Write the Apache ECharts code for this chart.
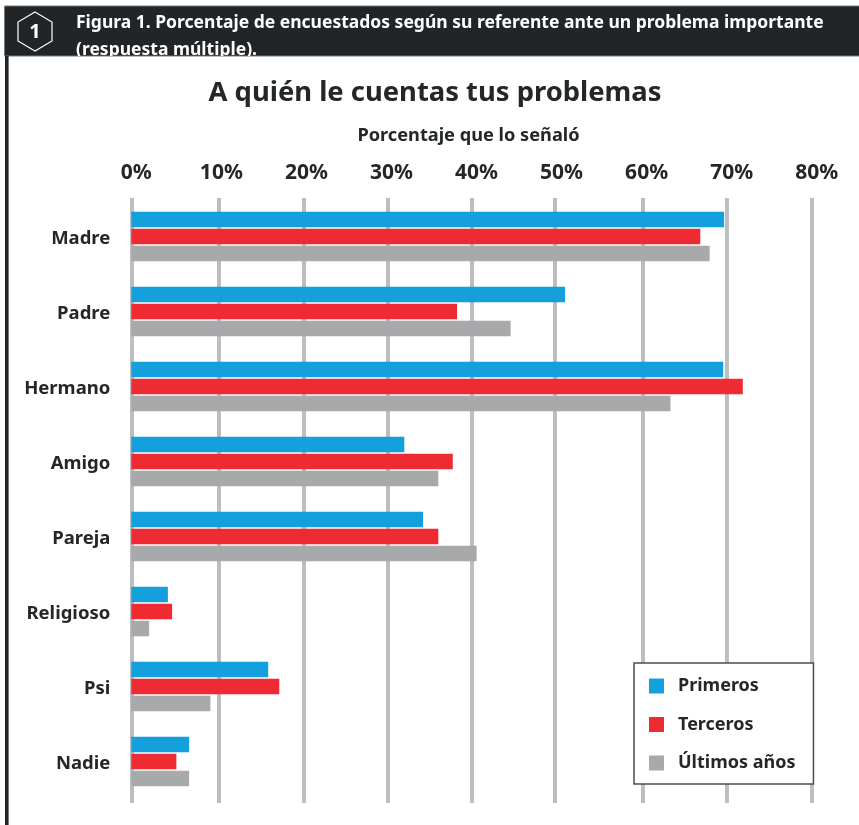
<!DOCTYPE html>
<html><head><meta charset="utf-8">
<style>html,body{margin:0;padding:0;background:#fff}#c{width:859px;height:825px}</style>
<script src="https://cdn.jsdelivr.net/npm/echarts@6/dist/echarts.min.js"></script>
</head><body><div id="c"></div>
<script>
const categories = ["Madre","Padre","Hermano","Amigo","Pareja","Religioso","Psi","Nadie"];
const primeros = [69.7,51.0,69.6,32.1,34.3,4.3,16.1,6.8];
const terceros = [66.9,38.3,71.9,37.8,36.1,4.8,17.4,5.3];
const ultimos  = [68.0,44.6,63.4,36.1,40.6,2.1,9.3,6.8];
const seriesNames = ["Primeros","Terceros","Últimos años"];
const xTickLabels = [0,10,20,30,40,50,60,70,80];
const gridMarks = [0,10.34,20.33,30.15,39.98,49.79,60.13,69.99,80];
const headerLine1 = "Figura 1. Porcentaje de encuestados según su referente ante un problema importante";
const headerLine2 = "(respuesta múltiple).";
const chartTitle = "A quién le cuentas tus problemas";
const axisTitle = "Porcentaje que lo señaló";

const FONT = '"Noto Sans", sans-serif';
const INK = '#232729';
const chart = echarts.init(document.getElementById('c'), null, {renderer:'canvas'});
const mkBar = (name,data,color)=>({
  name,type:'bar',data,xAxisIndex:0,yAxisIndex:0,barWidth:15.5,barGap:'10%',
  itemStyle:{color},z:3,animation:false
});
chart.setOption({
  animation:false,
  backgroundColor:'#fff',
  title:{text:chartTitle,left:430,top:75,textAlign:'center',
    textStyle:{fontFamily:FONT,fontSize:27.4,fontWeight:'bold',color:INK}},
  legend:{
    left:634,top:663,orient:'vertical',
    data:seriesNames,itemWidth:15,itemHeight:15,itemGap:20.5,
    padding:[14,18,12,15],icon:'rect',
    backgroundColor:'#fff',borderColor:'#4a4d4f',borderWidth:1.5,
    textStyle:{fontFamily:FONT,fontSize:18,fontWeight:'bold',color:INK,padding:[0,0,0,9]},
    selectedMode:false,z:10
  },
  grid:[
    {left:131.3,top:199,width:680.4,height:600},
    {left:131.3,top:198,width:680.4,height:605}
  ],
  xAxis:[
    {type:'value',gridIndex:0,min:0,max:80,interval:10,position:'top',
     name:axisTitle,nameLocation:'middle',nameGap:54,
     nameTextStyle:{fontFamily:FONT,fontSize:18.2,fontWeight:'bold',color:INK,padding:[0,6,0,0]},
     axisLine:{show:false},axisTick:{show:false},splitLine:{show:false},
     axisLabel:{show:true,margin:15,padding:[0,0,0,10],formatter:'{value}%',
       customValues:xTickLabels,
       fontFamily:FONT,fontSize:21,fontWeight:'bold',color:INK}},
    {type:'value',gridIndex:1,min:0,max:80,interval:10,
     axisLine:{show:false},axisLabel:{show:false},
     axisTick:{show:false,customValues:gridMarks},
     splitLine:{show:true,lineStyle:{color:'#bcbec0',width:4}}}
  ],
  yAxis:[
    {type:'category',gridIndex:0,data:categories,inverse:true,
     axisLine:{show:false},axisTick:{show:false},splitLine:{show:false},
     axisLabel:{margin:21,formatter:'{a|{value}}',
       rich:{a:{padding:[5,0,0,0],fontFamily:FONT,fontSize:18.5,fontWeight:'bold',color:INK}}}},
    {type:'category',gridIndex:1,data:categories,inverse:true,show:false}
  ],
  series:[
    mkBar(seriesNames[0],primeros,'#13a0dc'),
    mkBar(seriesNames[1],terceros,'#ee2b33'),
    mkBar(seriesNames[2],ultimos,'#a7a9aa')
  ],
  graphic:[
    {type:'group',silent:true,z:20,children:[
      {type:'rect',shape:{x:4.5,y:6,width:855,height:50},style:{fill:'#212527',stroke:'#77797b',lineWidth:1}},
      {type:'rect',shape:{x:5,y:56,width:3.6,height:769},style:{fill:'#212527'}},
      {type:'polygon',shape:{points:[[35,12],[52,22],[52,41],[35,51],[18,41],[18,22]]},style:{fill:'none',stroke:'#fff',lineWidth:1.2}},
      {type:'text',x:35,y:32,style:{text:'1',fill:'#fff',font:'bold 20px '+FONT,align:'center',verticalAlign:'middle'}},
      {type:'text',x:76,y:23,style:{text:headerLine1,fill:'#fff',font:'bold 17.5px '+FONT,verticalAlign:'middle'}},
      {type:'text',x:76,y:50,style:{text:headerLine2,fill:'#fff',font:'bold 17.5px '+FONT,verticalAlign:'middle'},
        clipPath:{type:'rect',shape:{x:-10,y:-20,width:400,height:26}}}
    ]}
  ]
});
</script></body></html>
